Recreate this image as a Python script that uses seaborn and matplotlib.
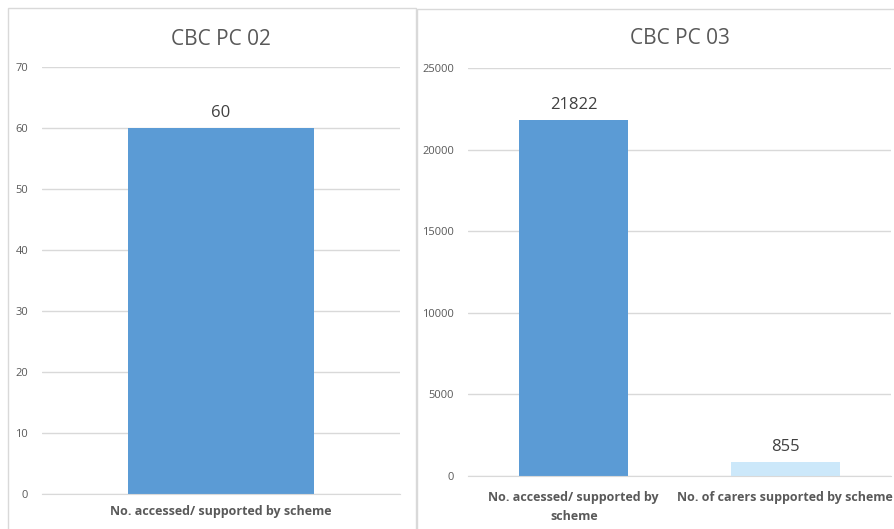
import seaborn as sns
import matplotlib.pyplot as plt
import pandas as pd
from matplotlib.patches import Rectangle

# data
left_title = "CBC PC 02"
left_cats = ["No. accessed/ supported by scheme"]
left_vals = [60]

right_title = "CBC PC 03"
right_cats = ["No. accessed/ supported by\nscheme", "No. of carers supported by scheme"]
right_vals = [21822, 855]

blue = "#5B9BD5"
light_blue = "#CCE8FA"
grey_txt = "#595959"
grid_col = "#D9D9D9"

sns.set_style("white")
plt.rcParams['font.family'] = ['Open Sans', 'DejaVu Sans']

fig = plt.figure(figsize=(8.95, 5.29), dpi=100)
W, H = 895, 529

# panel borders (pixel coords -> figure fraction)
def px_rect(x0, y0, x1, y1):
    return Rectangle((x0 / W, 1 - y1 / H), (x1 - x0) / W, (y1 - y0) / H,
                     transform=fig.transFigure, fill=False,
                     edgecolor=grid_col, linewidth=1.0)

fig.patches.append(px_rect(8, 8, 416, 540))
fig.patches.append(px_rect(417, 9, 900, 540))

ax1 = fig.add_axes([42 / W, 1 - 494 / H, (400 - 42) / W, (494 - 67) / H])
ax2 = fig.add_axes([468 / W, 1 - 476 / H, (891 - 468) / W, (476 - 68) / H])

df1 = pd.DataFrame({"cat": left_cats, "val": left_vals})
df2 = pd.DataFrame({"cat": right_cats, "val": right_vals})

sns.barplot(data=df1, x="cat", y="val", color=blue, width=0.52,
            saturation=1, linewidth=0, ax=ax1)
sns.barplot(data=df2, x="cat", y="val", hue="cat",
            palette=[blue, light_blue], width=0.515, saturation=1,
            linewidth=0, legend=False, ax=ax2)

def style(ax, title, ymax, step, xpad, tpad):
    ax.set_ylim(0, ymax)
    ax.set_yticks(range(0, ymax + 1, step))
    ax.yaxis.grid(True, color=grid_col, linewidth=1)
    ax.set_axisbelow(True)
    for s in ["top", "right", "left"]:
        ax.spines[s].set_visible(False)
    ax.spines["bottom"].set_color(grid_col)
    ax.tick_params(axis="y", length=0, pad=10, labelsize=8, labelcolor=grey_txt)
    ax.tick_params(axis="x", length=0, pad=xpad, labelsize=9, labelcolor=grey_txt)
    for lbl in ax.get_xticklabels():
        lbl.set_fontweight("bold")
        lbl.set_linespacing(1.55)
    ax.set_xlabel("")
    ax.set_ylabel("")
    ax.set_title(title, fontsize=15, color=grey_txt, pad=tpad)
    for c in ax.containers:
        ax.bar_label(c, labels=[f"{int(v)}" for v in c.datavalues], padding=5,
                     fontsize=12, color="#404040")

style(ax1, left_title, 70, 10, 8, 16)
style(ax2, right_title, 25000, 5000, 11, 17)

fig.savefig("out.png", dpi=100)
